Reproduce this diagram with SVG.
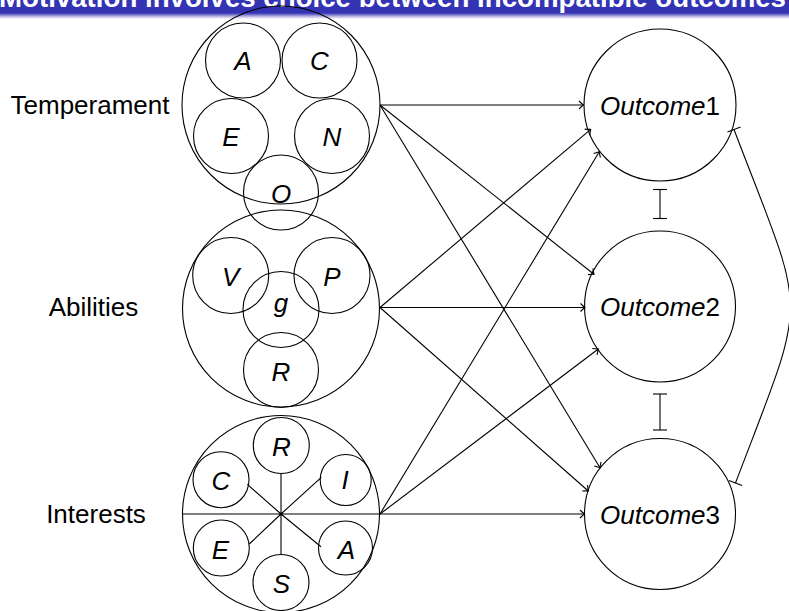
<svg xmlns="http://www.w3.org/2000/svg" width="789" height="611" viewBox="0 0 789 611">
<defs>
<linearGradient id="fade" x1="0" y1="0" x2="0" y2="1">
<stop offset="0" stop-color="#3333B3"/>
<stop offset="0.5" stop-color="#A9A9DC"/>
<stop offset="1" stop-color="#FFFFFF"/>
</linearGradient>
<marker id="arr" markerUnits="userSpaceOnUse" viewBox="-6 -5 7 10" refX="0" refY="0" markerWidth="7" markerHeight="10" orient="auto">
<path d="M-4.5,-4 Q-1.5,-1 0,0 Q-1.5,1 -4.5,4" fill="none" stroke="#000" stroke-width="1.1"/>
</marker>
<marker id="bar" markerUnits="userSpaceOnUse" viewBox="-2 -8 4 16" refX="0" refY="0" markerWidth="4" markerHeight="16" orient="auto">
<path d="M0,-7 L0,7" fill="none" stroke="#000" stroke-width="1.1"/>
</marker>
</defs>
<style>
.c{fill:none;stroke:#000;stroke-width:1.1}
.l{fill:none;stroke:#000;stroke-width:1.1}
.t{font-family:"Liberation Sans",Arial,sans-serif;font-size:26px;fill:#000}
.i{font-family:"Liberation Sans",Arial,sans-serif;font-size:26px;font-style:italic;fill:#000;text-anchor:middle}
.a{marker-end:url(#arr)}
.b{marker-start:url(#bar);marker-end:url(#bar)}
</style>
<rect width="789" height="611" fill="#fff"/>
<g id="title">
<rect x="0" y="0" width="789" height="13" fill="#3333B3"/>
<rect x="0" y="13" width="789" height="6" fill="url(#fade)"/>
<text x="-1" y="6.5" font-family="'Liberation Sans',Arial,sans-serif" font-weight="bold" font-size="28" fill="#fff" textLength="787" lengthAdjust="spacingAndGlyphs">Motivation involves choice between incompatible outcomes</text>
</g>
<g id="temperament">
<circle class="c" cx="281" cy="105" r="99"/>
<circle class="c" cx="243" cy="60.5" r="37.5"/>
<circle class="c" cx="319.5" cy="60.5" r="37.5"/>
<circle class="c" cx="231" cy="136" r="37.5"/>
<circle class="c" cx="332" cy="136" r="37.5"/>
<circle class="c" cx="281" cy="192.5" r="37.5"/>
<text class="i" x="243" y="70">A</text>
<text class="i" x="319.5" y="70">C</text>
<text class="i" x="231" y="146">E</text>
<text class="i" x="332" y="146">N</text>
<text class="i" x="281" y="203">O</text>
<text class="t" x="90" y="114" text-anchor="middle">Temperament</text>
</g>
<g id="abilities">
<circle class="c" cx="281" cy="308.5" r="98.5"/>
<circle class="c" cx="230.7" cy="275.5" r="38"/>
<circle class="c" cx="332" cy="275.5" r="38"/>
<circle class="c" cx="281" cy="309.5" r="38"/>
<circle class="c" cx="281" cy="370" r="37.5"/>
<text class="i" x="230.7" y="286">V</text>
<text class="i" x="332" y="286">P</text>
<text class="i" x="281" y="312">g</text>
<text class="i" x="281" y="381">R</text>
<text class="t" x="93.5" y="316" text-anchor="middle">Abilities</text>
</g>
<g id="interests">
<circle class="c" cx="281" cy="514" r="98.5"/>
<circle class="c" cx="281.3" cy="445.5" r="28"/>
<circle class="c" cx="281" cy="582.5" r="28"/>
<circle class="c" cx="221" cy="479.7" r="28"/>
<circle class="c" cx="345.7" cy="480" r="25.5"/>
<circle class="c" cx="221.3" cy="548" r="28"/>
<circle class="c" cx="345.5" cy="548" r="27"/>
<path class="l" d="M182.5,514 H380 M281,514 V473.5 M281,514 V554.5 M281,514 L247.3,484.3 M281,514 L321.3,477.3 M281,514 L249.3,544 M281,514 L321,546.7"/>
<text class="i" x="281.5" y="456">R</text>
<text class="i" x="221" y="490">C</text>
<text class="i" x="345" y="489">I</text>
<text class="i" x="220.5" y="558.5">E</text>
<text class="i" x="346.5" y="558.5">A</text>
<text class="i" x="281.5" y="592.5">S</text>
<text class="t" x="96" y="523" text-anchor="middle">Interests</text>
</g>
<g id="outcome1">
<circle class="c" cx="660" cy="105" r="76"/>
<text class="i" x="660" y="115">Outcome<tspan font-style="normal">1</tspan></text>
</g>
<g id="outcome2">
<circle class="c" cx="660" cy="306.5" r="75.5"/>
<text class="i" x="660" y="316">Outcome<tspan font-style="normal">2</tspan></text>
</g>
<g id="outcome3">
<circle class="c" cx="660" cy="514" r="75.5"/>
<text class="i" x="660" y="523.5">Outcome<tspan font-style="normal">3</tspan></text>
</g>
<g id="connectors">
<path class="l a" d="M380,105 L583.5,105"/>
<path class="l a" d="M380,105 L594,274.3"/>
<path class="l a" d="M380,105 L600,467.7"/>
<path class="l a" d="M380,307.5 L590.7,129.3"/>
<path class="l a" d="M380,307.5 L585,307.5"/>
<path class="l a" d="M380,307.5 L588.3,491"/>
<path class="l a" d="M380,514 L599.3,151.7"/>
<path class="l a" d="M380,514 L598.3,349"/>
<path class="l a" d="M380,514 L584.5,514"/>
<path class="l b" d="M660,189.5 L660,218.5"/>
<path class="l b" d="M660,394 L660,430"/>
<path class="l b" d="M734,129.5 C808,324 810,287 735.5,483"/>
</g>
</svg>
